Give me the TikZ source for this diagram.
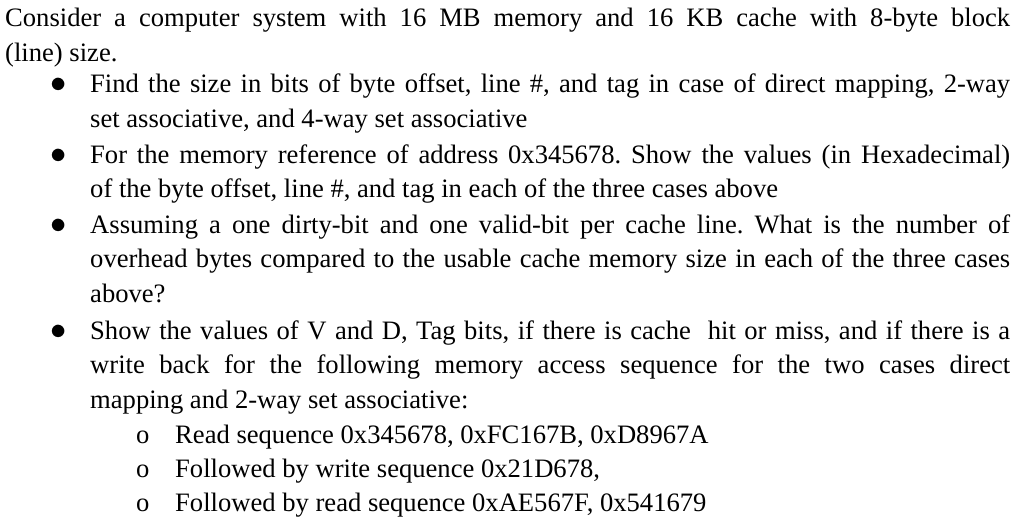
\documentclass[tikz,border=0pt]{standalone}
\usepackage{fontspec}
\setmainfont{Liberation Serif}
\frenchspacing
\tikzset{para/.style={anchor=base west,inner sep=0pt,text width=#1,align=justify,font=\fontsize{26.6}{34.5}\selectfont\frenchspacing},
 lbl/.style={anchor=base west,inner sep=0pt,font=\fontsize{26.6}{34.5}\selectfont}}
\begin{document}
\begin{tikzpicture}[x=1pt,y=-1pt]
\useasboundingbox (0,0) rectangle (1024,524);
\node[para=1005pt] (p0) at (5,27) {Consider a computer system with 16 MB memory and 16 KB cache with 8-byte block\linebreak (line) size.};
\node[lbl] (b1) at (50,93) {\scalebox{1.3}{$\bullet$}};
\node[para=920pt] (p1) at (90,93) {Find the size in bits of byte offset, line \#, and tag in case of direct mapping, 2-way\linebreak set associative, and 4-way set associative};
\node[lbl] (b2) at (50,163) {\scalebox{1.3}{$\bullet$}};
\node[para=920pt] (p2) at (90,163) {For the memory reference of address 0x345678. Show the values (in Hexadecimal)\linebreak of the byte offset, line \#, and tag in each of the three cases above};
\node[lbl] (b3) at (50,233) {\scalebox{1.3}{$\bullet$}};
\node[para=920pt] (p3) at (90,233) {Assuming a one dirty-bit and one valid-bit per cache line. What is the number of\linebreak overhead bytes compared to the usable cache memory size in each of the three cases\linebreak above?};
\node[lbl] (b4) at (50,339) {\scalebox{1.3}{$\bullet$}};
\node[para=920pt] (p4) at (90,339) {Show the values of V and D, Tag bits, if there is cache\ \ hit or miss, and if there is a\linebreak write back for the following memory access sequence for the two cases direct\linebreak mapping and 2-way set associative:};
\node[lbl] (o1) at (136,443) {o};
\node[lbl] (s1) at (175,443) {Read sequence 0x345678, 0xFC167B, 0xD8967A};
\node[lbl] (o2) at (136,477) {o};
\node[lbl] (s2) at (175,477) {Followed by write sequence 0x21D678,};
\node[lbl] (o3) at (136,511) {o};
\node[lbl] (s3) at (175,511) {Followed by read sequence 0xAE567F, 0x541679};
\end{tikzpicture}
\end{document}
